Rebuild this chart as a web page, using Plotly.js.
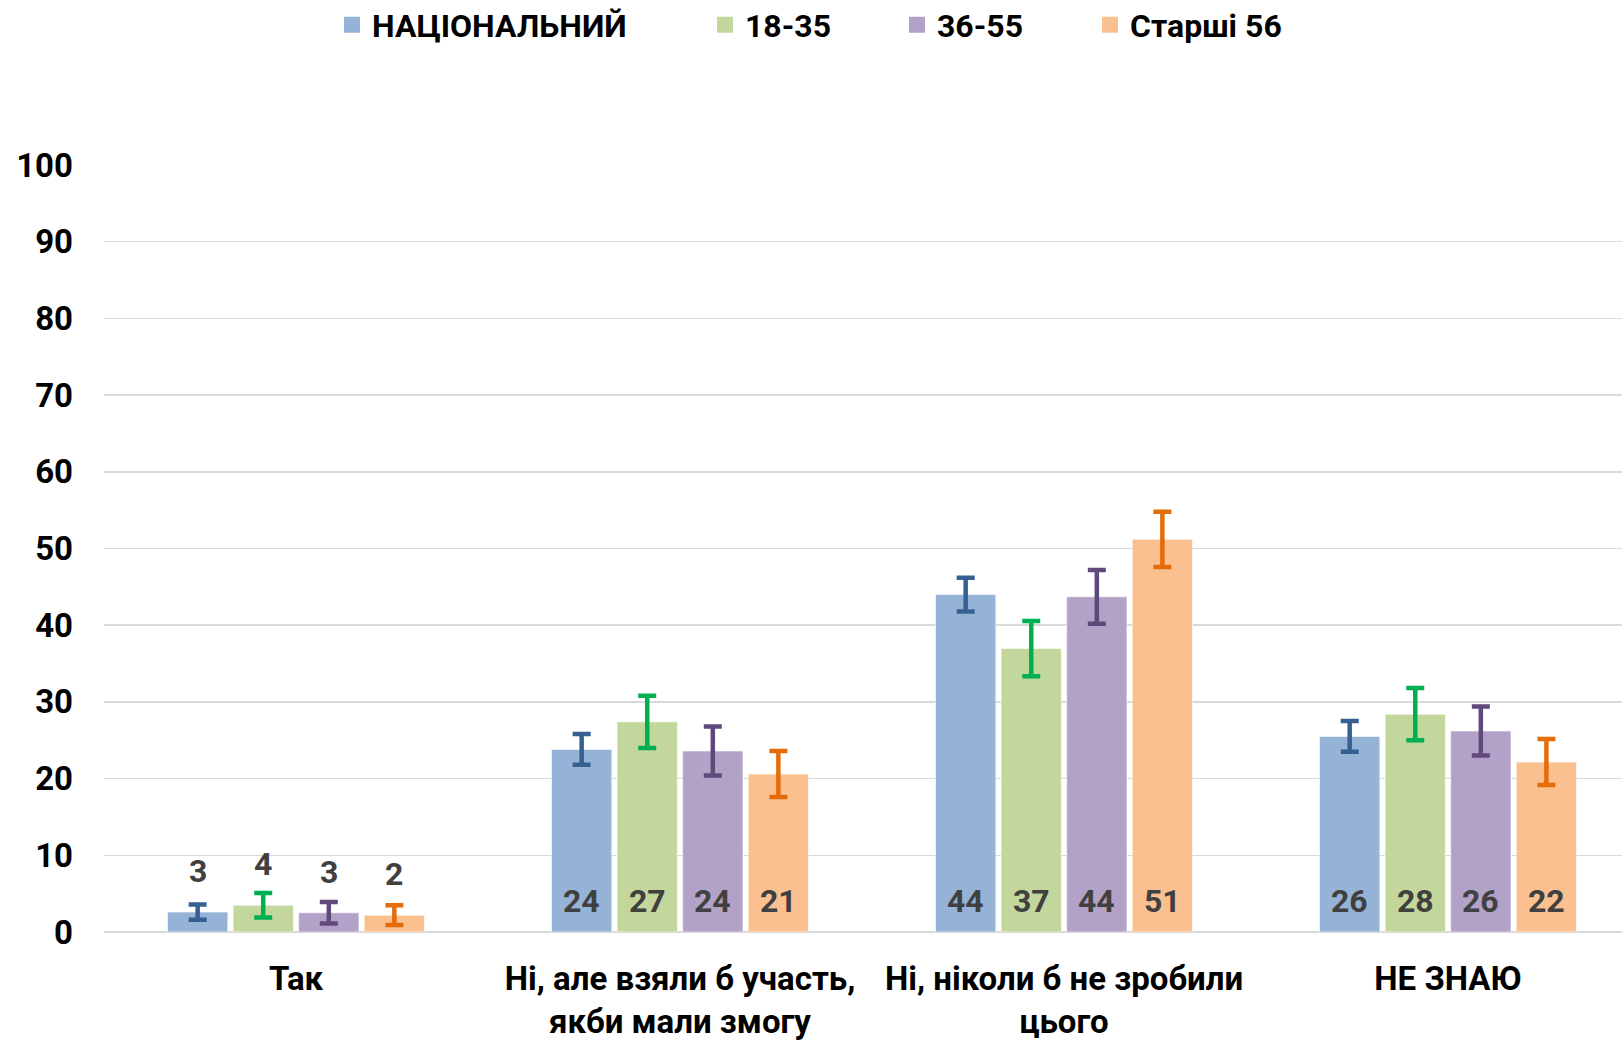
<!DOCTYPE html>
<html>
<head>
<meta charset="utf-8">
<script src="https://cdn.plot.ly/plotly-3.0.1.min.js"></script>
<style>html,body{margin:0;padding:0;background:#fff;}#chart{width:1622px;height:1043px;}</style>
</head>
<body>
<div id="chart"></div>
<script>
const categories = ['Так', 'Ні, але взяли б участь,<br>якби мали змогу', 'Ні, ніколи б не зробили<br>цього', 'НЕ ЗНАЮ'];
const seriesNames = ['НАЦІОНАЛЬНИЙ', '18-35', '36-55', 'Старші 56'];
const national   = [2.6, 23.8, 44.0, 25.5];
const age18to35  = [3.5, 27.4, 36.95, 28.4];
const age36to55  = [2.5, 23.6, 43.7, 26.2];
const age56plus  = [2.2, 20.6, 51.2, 22.15];
const nationalErr  = [1.0, 2.0, 2.2, 2.0];
const age18to35Err = [1.6, 3.4, 3.6, 3.4];
const age36to55Err = [1.4, 3.2, 3.5, 3.2];
const age56plusErr = [1.3, 3.0, 3.6, 3.0];
const yTicks = [0, 10, 20, 30, 40, 50, 60, 70, 80, 90, 100];

const seriesValues = [national, age18to35, age36to55, age56plus];
const seriesErrors = [nationalErr, age18to35Err, age36to55Err, age56plusErr];
const barColors = ['#95B3D7', '#C3D69B', '#B2A2C7', '#FAC090'];
const errColors = ['#366092', '#00B050', '#604A7B', '#E46C0A'];
const legendLeft = [332, 705, 897, 1090];   // px positions of each legend entry

const FONT = 'Roboto, "Open Sans", "DejaVu Sans", sans-serif';
const bargap = 0.317, bargroupgap = 0.08;
const legendIds = ['legend', 'legend2', 'legend3', 'legend4'];

const traces = seriesValues.map((vals, k) => ({
  type: 'bar',
  name: seriesNames[k],
  x: categories,
  y: vals,
  showlegend: false,
  marker: {color: barColors[k], line: {color: 'rgba(255,255,255,0.6)', width: 1}},
  error_y: {type: 'data', array: seriesErrors[k], visible: true, color: errColors[k], thickness: 4.5, width: 9},
  hoverinfo: 'skip'
}));
// legend-only entries (square swatches)
seriesNames.forEach((name, k) => {
  traces.push({
    type: 'scatter', mode: 'markers', name: name,
    x: [null], y: [null],
    legend: legendIds[k],
    marker: {symbol: 'square', size: 16, color: barColors[k]},
    hoverinfo: 'skip', showlegend: true
  });
});

const slot = (1 - bargap) / seriesValues.length;
const annotations = [];
seriesValues.forEach((vals, k) => {
  vals.forEach((v, i) => {
    const above = v < 10;
    annotations.push({
      xref: 'x', yref: 'y',
      x: i + (k - (seriesValues.length - 1) / 2) * slot,
      y: above ? v : 0,
      yanchor: 'bottom', xanchor: 'center',
      yshift: above ? 20 : 10,
      text: '<b>' + Math.round(v) + '</b>',
      showarrow: false,
      font: {family: FONT, size: 32, color: '#404040'}
    });
  });
});

const layout = {
  width: 1622, height: 1043,
  paper_bgcolor: '#ffffff', plot_bgcolor: '#ffffff',
  margin: {l: 104, r: 0, t: 165, b: 111},
  barmode: 'group', bargap: bargap, bargroupgap: bargroupgap,
  font: {family: FONT, color: '#000'},
  showlegend: true,
  xaxis: {
    type: 'category', range: [-0.5, 3.453],
    showgrid: false, zeroline: false, showline: false,
    ticks: '', ticklabelstandoff: 24,
    tickfont: {family: FONT, size: 33, color: '#000', weight: 'bold'},
    fixedrange: true
  },
  yaxis: {
    range: [0, 100], tickvals: yTicks, ticktext: yTicks.map(String),
    showgrid: true, gridcolor: '#D9D9D9', gridwidth: 1.5,
    zeroline: true, zerolinecolor: '#D9D9D9', zerolinewidth: 2.5,
    showline: false, ticks: '', ticklabelstandoff: 30,
    tickfont: {family: FONT, size: 33, color: '#000', weight: 'bold'},
    fixedrange: true
  },
  annotations: annotations
};
legendIds.forEach((id, k) => {
  layout[id] = {
    orientation: 'h', xref: 'container', yref: 'container',
    x: legendLeft[k] / 1622, xanchor: 'left', y: 1 - 25 / 1043, yanchor: 'middle',
    font: {family: FONT, size: 32, color: '#000', weight: 'bold'},
    itemsizing: 'trace', borderwidth: 0,
    itemclick: false, itemdoubleclick: false
  };
});

Plotly.newPlot('chart', traces, layout, {displayModeBar: false, staticPlot: true});
</script>
</body>
</html>
